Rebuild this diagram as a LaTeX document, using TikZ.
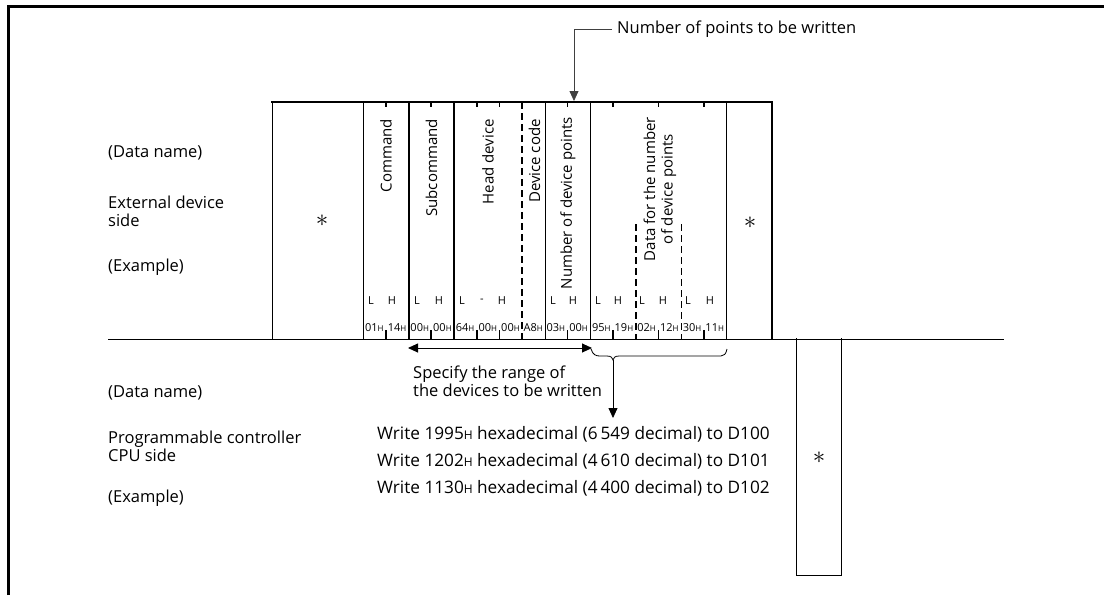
\documentclass[tikz,border=0pt]{standalone}
\usepackage{fontspec}
\setmainfont{Open Sans}
\usetikzlibrary{arrows.meta}
\newcommand{\lblfont}{\fontsize{16.5}{18}\selectfont}
\newcommand{\wrfont}{\fontsize{17.2}{18}\selectfont}
\newcommand{\vfont}{\fontsize{15}{17.5}\selectfont}
\newcommand{\lhfont}{\fontsize{11}{12}\selectfont}
\newcommand{\hxfont}{\fontsize{11}{12}\selectfont}
\newcommand{\hx}[1]{#1{\fontsize{8}{9}\selectfont H}}
\newcommand{\hH}{{\fontsize{12}{12}\selectfont H}}
\tikzset{
  lbl/.style={font=\lblfont, anchor=west, align=left, inner sep=0pt},
  wr/.style={font=\wrfont, anchor=west, align=left, inner sep=0pt},
  vtxt/.style={rotate=90, anchor=east, font=\vfont, inner sep=0pt, align=center},
  lh/.style={font=\lhfont, inner sep=0pt},
  hexl/.style={font=\hxfont, inner sep=0pt},
  star/.style={font=\fontsize{24}{24}\selectfont, inner sep=0pt},
  thinln/.style={line width=0.9pt},
  thickln/.style={line width=2pt},
  tickln/.style={line width=1.3pt},
  dashthick/.style={line width=2pt, dash pattern=on 7pt off 4pt},
  dashthin/.style={line width=1pt, dash pattern=on 7pt off 4pt},
  arr/.style={-{Triangle[length=10pt,width=9pt]}, line width=0.8pt},
  dblarr/.style={{Triangle[length=10pt,width=9pt]}-{Triangle[length=10pt,width=9pt]}, line width=0.9pt},
}
\begin{document}
\begin{tikzpicture}[x=1pt,y=-1pt]
\useasboundingbox (0,0) rectangle (1104,595);
% outer frame
\draw[line width=3pt] (8,595) -- (8,6) -- (1104,6);
% base line
\draw[thinln] (108,339) -- (1004,339);
% main block
\draw[thickln] (271,102) -- (773,102);
\draw[thinln] (272,102) -- (272,339);
\draw[thinln] (363,102) -- (363,339);
\draw[thickln] (408.5,102) -- (408.5,339);
\draw[thickln] (454,102) -- (454,339);
\draw[dashthick] (522,102) -- (522,339);
\draw[thinln] (545,102) -- (545,339);
\draw[thinln] (590,102) -- (590,339);
\draw[dashthick] (636,224) -- (636,339);
\draw[dashthin] (681.5,224) -- (681.5,339);
\draw[thinln] (726,102) -- (726,339);
\draw[thickln] (772,102) -- (772,339);
% ticks top and bottom
\foreach \x in {386,431,477,499.5,567.5,613,658.5,704}{
  \draw[tickln] (\x,102) -- (\x,107);
  \draw[tickln] (\x,330) -- (\x,339);
}
% bottom box
\draw[thinln] (796,338) -- (796,575) -- (841,575) -- (841,338);
% stars
\node[star] (s1) at (322,221) {$\ast$};
\node[star] (s2) at (750,223) {$\ast$};
\node[star] (s3) at (819,458) {$\ast$};
% vertical texts
\node[vtxt] (cmd) at (386,119) {Command};
\node[vtxt] (sub) at (431.5,119) {Subcommand};
\node[vtxt] (hd) at (488,119) {Head device};
\node[vtxt] (dc) at (534.5,119) {Device code};
\node[vtxt] (ndp) at (568,117) {Number of device points};
\node[vtxt] (dat) at (660,117) {Data for the number\\of device points};
% L H labels
\foreach \x/\t in {371/L,392/H,417/L,439/H,462/L,482/-,502/H,553/L,573/H,598/L,618/H,642/L,663/H,688/L,710/H}{
  \node[lh] at (\x,301) {\t};
}
% hex values
\foreach \i/\v in {0/01,1/14,2/00,3/00,4/64,5/00,6/00,7/A8,8/03,9/00,10/95,11/19,12/02,13/12,14/30,15/11}{
  \node[hexl] at ({363+22.69*(\i+0.5)},328) {\hx{\v}};
}
% left labels
\node[lbl] (dn1) at (108,153) {(Data name)};
\node[lbl] (ext) at (108,211) {External device\\side};
\node[lbl] (ex1) at (108,267) {(Example)};
\node[lbl] (dn2) at (108,393) {(Data name)};
\node[lbl] (plc) at (108,446.5) {Programmable controller\\CPU side};
\node[lbl] (ex2) at (108,498) {(Example)};
% number of points to be written
\node[lbl] (npw) at (617,29) {Number of points to be written};
\coordinate (npwTip) at (574,101);
\draw[arr, draw=black!75] (npw.west) ++(-5,0) -- ++(-38,0) -- (npwTip);
% specify range
\coordinate (rL) at (408,348);
\coordinate (rR) at (592,348);
\draw[dblarr] (rL) -- (rR);
\node[lbl] (spec) at (413,381) {Specify the range of\\the devices to be written};
% brace
\coordinate (bTip) at (613,360);
\draw[line width=0.8pt] (591,349) .. controls (593,355) and (596,356) .. (600,356)
  -- (607,356) .. controls (611,356) and (613,358) .. (bTip)
  .. controls (613,358) and (615,356) .. (619,356)
  -- (721,356) .. controls (724,356) and (726,354) .. (727,349);
% write lines
\node[wr] (w1) at (377,434) {Write 1995\hH{} hexadecimal (6\,549 decimal) to D100};
\node[wr] (w2) at (377,461) {Write 1202\hH{} hexadecimal (4\,610 decimal) to D101};
\node[wr] (w3) at (377,488) {Write 1130\hH{} hexadecimal (4\,400 decimal) to D102};
\coordinate (wTip) at (613,418);
\draw[arr] (bTip) -- (wTip);
\end{tikzpicture}
\end{document}
